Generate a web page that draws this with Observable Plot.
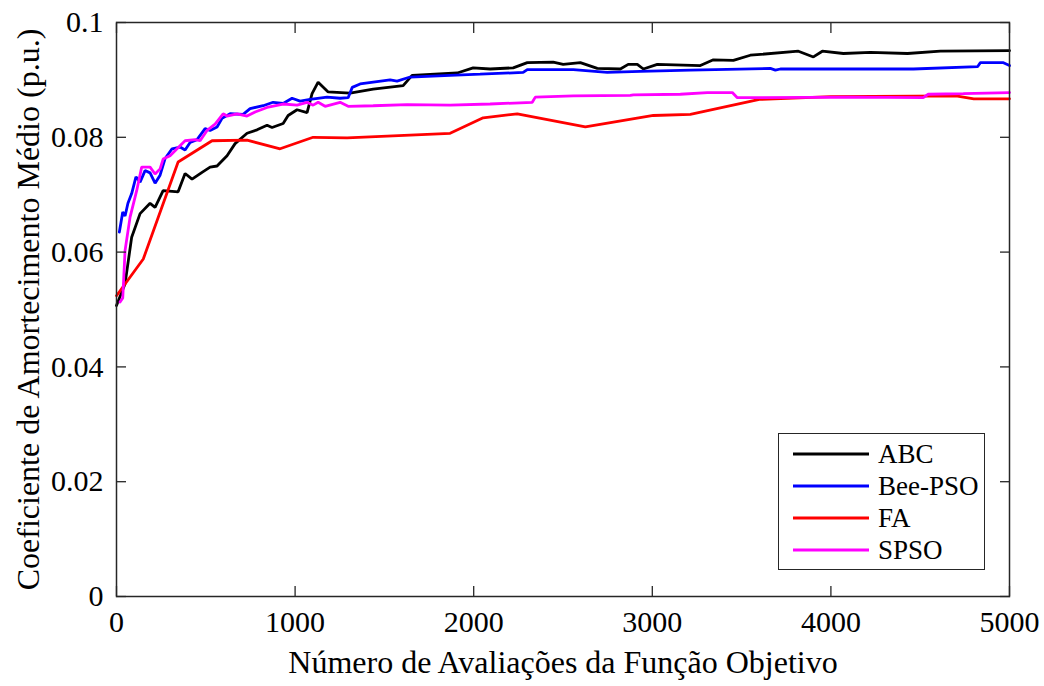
<!DOCTYPE html>
<html>
<head>
<meta charset="utf-8">
<script src="https://cdn.jsdelivr.net/npm/d3@7"></script>
<script src="https://cdn.jsdelivr.net/npm/@observablehq/plot@0.6"></script>
<style>
  html, body { margin: 0; padding: 0; background: #fff; }
  #wrap { position: relative; width: 1044px; height: 686px; }
  #legend { position: absolute; left: 778px; top: 433px; width: 207px; height: 137px;
    border: 1.5px solid #262626; background: #fff; box-sizing: border-box;
    font-family: "Liberation Serif", "Times New Roman", serif; font-size: 27px; color: #000; }
  .row { position: absolute; left: 0; height: 32px; display: flex; align-items: center; }
  .row svg { margin-left: 14px; margin-right: 9px; }
</style>
</head>
<body>
<div id="wrap"><div id="legend"></div></div>
<script>
const xTicks = [0, 1000, 2000, 3000, 4000, 5000];
const yTicks = [0, 0.02, 0.04, 0.06, 0.08, 0.1];
const seriesNames = ["ABC", "Bee-PSO", "FA", "SPSO"];
const seriesColors = ["#000000", "#0000ff", "#ff0000", "#ff00ff"];

const abcX = [0, 48, 85, 132, 188, 216, 261, 345, 384, 423, 479, 524, 563, 619, 664, 731, 787, 843, 871, 933, 961, 1011, 1067, 1095, 1129, 1185, 1308, 1437, 1605, 1655, 1908, 1997, 2092, 2221, 2300, 2445, 2501, 2597, 2692, 2821, 2865, 2916, 2950, 3028, 3269, 3342, 3454, 3549, 3818, 3902, 3952, 4070, 4221, 4429, 4613, 5000];
const abcY = [0.0507, 0.0545, 0.0626, 0.0667, 0.0685, 0.0678, 0.0707, 0.0705, 0.0737, 0.0727, 0.0739, 0.0748, 0.0750, 0.0768, 0.0789, 0.0807, 0.0813, 0.0821, 0.0817, 0.0824, 0.0838, 0.0848, 0.0843, 0.0876, 0.0896, 0.0879, 0.0877, 0.0884, 0.0890, 0.0908, 0.0912, 0.0921, 0.0919, 0.0921, 0.0930, 0.0931, 0.0927, 0.0930, 0.0920, 0.0919, 0.0927, 0.0927, 0.0919, 0.0927, 0.0925, 0.0935, 0.0934, 0.0943, 0.0950, 0.0940, 0.0950, 0.0946, 0.0948, 0.0946, 0.0950, 0.0951];

const beeX = [16, 35, 48, 64, 85, 109, 132, 160, 188, 216, 244, 272, 311, 356, 384, 412, 451, 496, 524, 563, 591, 636, 709, 748, 821, 877, 933, 983, 1028, 1084, 1179, 1252, 1297, 1320, 1364, 1532, 1571, 1644, 1868, 2036, 2277, 2300, 2558, 2748, 2933, 3213, 3661, 3689, 3717, 4462, 4821, 4837, 4966, 5000];
const beeY = [0.0635, 0.0670, 0.0663, 0.0685, 0.0702, 0.0731, 0.0722, 0.0742, 0.0738, 0.0720, 0.0734, 0.0763, 0.0780, 0.0783, 0.0778, 0.0791, 0.0796, 0.0815, 0.0812, 0.0818, 0.0833, 0.0841, 0.0840, 0.0850, 0.0855, 0.0861, 0.0859, 0.0868, 0.0863, 0.0866, 0.0870, 0.0868, 0.0869, 0.0887, 0.0893, 0.0900, 0.0898, 0.0905, 0.0908, 0.0910, 0.0913, 0.0918, 0.0918, 0.0913, 0.0915, 0.0917, 0.0920, 0.0917, 0.0919, 0.0919, 0.0923, 0.0930, 0.0930, 0.0925];

const faX = [0, 150, 345, 535, 731, 916, 1101, 1291, 1868, 2053, 2244, 2625, 3006, 3213, 3600, 4000, 4700, 4800, 5000];
const faY = [0.0524, 0.0588, 0.0757, 0.0794, 0.0795, 0.0780, 0.0800, 0.0799, 0.0807, 0.0834, 0.0841, 0.0818, 0.0838, 0.0840, 0.0866, 0.0871, 0.0872, 0.0867, 0.0867];

const spsoX = [20, 35, 48, 76, 113, 141, 188, 216, 244, 261, 300, 339, 384, 440, 468, 507, 552, 597, 619, 675, 731, 776, 843, 933, 1011, 1067, 1101, 1129, 1168, 1252, 1297, 1437, 1627, 1868, 2092, 2328, 2345, 2558, 2877, 2894, 3157, 3308, 3448, 3476, 4108, 4517, 4545, 4741, 5000];
const spsoY = [0.0513, 0.0520, 0.0603, 0.0661, 0.0707, 0.0748, 0.0748, 0.0736, 0.0745, 0.0762, 0.0768, 0.0780, 0.0794, 0.0796, 0.0794, 0.0812, 0.0823, 0.0841, 0.0837, 0.0841, 0.0837, 0.0844, 0.0852, 0.0858, 0.0856, 0.0861, 0.0856, 0.0861, 0.0854, 0.0861, 0.0854, 0.0855, 0.0857, 0.0856, 0.0858, 0.0861, 0.0870, 0.0872, 0.0873, 0.0874, 0.0875, 0.0878, 0.0878, 0.0869, 0.0870, 0.0869, 0.0875, 0.0876, 0.0878];

const seriesX = [abcX, beeX, faX, spsoX];
const seriesY = [abcY, beeY, faY, spsoY];
const data = seriesNames.flatMap((name, i) => seriesX[i].map((x, j) => ({series: name, x, y: seriesY[i][j]})));

const axisColor = "#262626";
const font = "Liberation Serif";

const chart = Plot.plot({
  width: 1044,
  height: 686,
  marginLeft: 116,
  marginRight: 35,
  marginTop: 22,
  marginBottom: 90,
  style: {background: "#fff"},
  x: {domain: [0, 5000], ticks: xTicks, tickFormat: d => String(d)},
  y: {domain: [0, 0.1], ticks: yTicks, tickFormat: d => String(d)},
  color: {domain: seriesNames, range: seriesColors},
  marks: [
    Plot.line(data, {x: "x", y: "y", z: "series", stroke: "series", strokeWidth: 2.8, strokeLinejoin: "miter"}),
    Plot.frame({stroke: axisColor, strokeWidth: 1.5}),
    Plot.axisX({anchor: "bottom", ticks: xTicks, tickSize: 10, dy: -10, text: null, label: null, stroke: axisColor, strokeWidth: 1.3}),
    Plot.axisX({anchor: "top", ticks: xTicks, tickSize: 10, dy: 10, text: null, label: null, stroke: axisColor, strokeWidth: 1.3}),
    Plot.axisY({anchor: "left", ticks: yTicks, tickSize: 10, dx: 10, text: null, label: null, stroke: axisColor, strokeWidth: 1.3}),
    Plot.axisY({anchor: "right", ticks: yTicks, tickSize: 10, dx: -10, text: null, label: null, stroke: axisColor, strokeWidth: 1.3}),
    Plot.axisX({anchor: "bottom", ticks: xTicks, tickSize: 0, tickPadding: 14, tickFormat: d => String(d), fill: "#000", fontSize: 30, fontFamily: font, label: null}),
    Plot.axisX({anchor: "bottom", ticks: [], tickSize: 0, fill: "#000", fontSize: 32, fontFamily: font,
      label: "Número de Avaliações da Função Objetivo", labelAnchor: "center", labelArrow: "none", labelOffset: 76}),
    Plot.axisY({anchor: "left", ticks: yTicks, tickSize: 0, tickPadding: 13, tickFormat: d => String(d), fill: "#000", fontSize: 30, fontFamily: font, label: null}),
    Plot.axisY({anchor: "left", ticks: [], tickSize: 0, fill: "#000", fontSize: 32, fontFamily: font,
      label: "Coeficiente de Amortecimento Médio (p.u.)", labelAnchor: "center", labelArrow: "none", labelOffset: 100})
  ]
});
d3.select(chart).selectAll("text").attr("font-family", font);
document.getElementById("wrap").prepend(chart);

const legend = document.getElementById("legend");
seriesNames.forEach((name, i) => {
  const row = document.createElement("div");
  row.className = "row";
  row.style.top = (4 + i * 32) + "px";
  row.innerHTML = `<svg width="76" height="6"><line x1="0" y1="3" x2="76" y2="3" stroke="${seriesColors[i]}" stroke-width="2.8"/></svg><span>${name}</span>`;
  legend.appendChild(row);
});
</script>
</body>
</html>
